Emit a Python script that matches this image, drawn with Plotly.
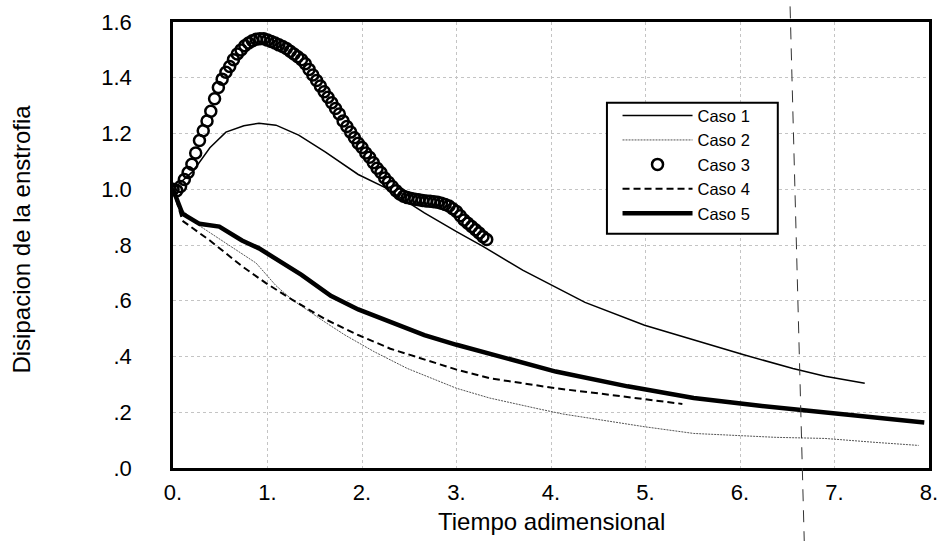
import plotly.graph_objects as go

# ---------------- data ----------------
caso1_x = [0.00, 0.10, 0.21, 0.39, 0.56, 0.75, 0.91, 1.09, 1.33, 1.61, 1.96, 2.24, 2.66, 3.00,
           3.28, 3.70, 4.05, 4.36, 4.99, 5.51, 6.04, 6.56, 6.90, 7.32]
caso1_y = [1.00, 1.03, 1.064, 1.149, 1.205, 1.228, 1.237, 1.230, 1.194, 1.134, 1.053, 1.007, 0.915, 0.848,
           0.795, 0.710, 0.647, 0.594, 0.512, 0.459, 0.406, 0.357, 0.329, 0.304]

caso2_x = [0.00, 0.10, 0.28, 0.56, 0.88, 1.09, 1.26, 1.61, 1.82, 2.13, 2.48, 3.00, 3.35, 3.87,
           4.12, 4.99, 5.51, 6.38, 6.90, 7.43, 7.89]
caso2_y = [1.00, 0.925, 0.869, 0.806, 0.735, 0.654, 0.604, 0.523, 0.477, 0.417, 0.357, 0.286, 0.251, 0.212,
           0.194, 0.148, 0.124, 0.110, 0.106, 0.092, 0.081]

caso3_x = [0.00, 0.04, 0.08, 0.12, 0.16, 0.20, 0.24, 0.28, 0.32, 0.36, 0.40, 0.44, 0.48, 0.52,
           0.56, 0.60, 0.64, 0.68, 0.72, 0.76, 0.80, 0.84, 0.88, 0.92, 0.96, 1.00, 1.04, 1.08,
           1.12, 1.16, 1.20, 1.24, 1.28, 1.32, 1.36, 1.40, 1.44, 1.48, 1.52, 1.56, 1.60, 1.64,
           1.68, 1.72, 1.76, 1.80, 1.84, 1.88, 1.92, 1.96, 2.00, 2.04, 2.08, 2.12, 2.16, 2.20,
           2.24, 2.28, 2.32, 2.36, 2.40, 2.44, 2.48, 2.52, 2.56, 2.60, 2.64, 2.68, 2.72, 2.76,
           2.80, 2.84, 2.88, 2.92, 2.96, 3.00, 3.04, 3.08, 3.12, 3.16, 3.20, 3.24, 3.28, 3.32]
caso3_y = [1.000, 0.995, 1.010, 1.035, 1.060, 1.090, 1.130, 1.175, 1.210, 1.245, 1.280, 1.325, 1.365, 1.395,
           1.420, 1.440, 1.465, 1.485, 1.500, 1.515, 1.525, 1.533, 1.538, 1.540, 1.540, 1.535, 1.530, 1.525,
           1.518, 1.512, 1.505, 1.495, 1.485, 1.475, 1.465, 1.450, 1.430, 1.410, 1.390, 1.370, 1.350, 1.330,
           1.310, 1.290, 1.270, 1.245, 1.225, 1.205, 1.185, 1.165, 1.150, 1.130, 1.115, 1.095, 1.075, 1.060,
           1.040, 1.025, 1.010, 0.995, 0.983, 0.975, 0.970, 0.967, 0.964, 0.962, 0.960, 0.958, 0.957, 0.955,
           0.953, 0.950, 0.945, 0.940, 0.930, 0.920, 0.905, 0.890, 0.878, 0.866, 0.855, 0.843, 0.830, 0.820]

caso4_x = [0.00, 0.10, 0.39, 0.73, 0.98, 1.26, 1.61, 1.96, 2.30, 2.66, 3.00, 3.35, 3.70, 4.05,
           4.47, 4.99, 5.39]
caso4_y = [1.00, 0.887, 0.816, 0.724, 0.664, 0.604, 0.534, 0.477, 0.428, 0.389, 0.353, 0.322, 0.304, 0.286,
           0.269, 0.247, 0.230]

caso5_x = [0.00, 0.10, 0.28, 0.49, 0.73, 0.91, 1.36, 1.67, 1.96, 2.30, 2.66, 3.00, 3.35, 3.70,
           4.05, 4.81, 5.51, 6.21, 6.90, 7.43, 7.95]
caso5_y = [1.00, 0.912, 0.876, 0.866, 0.816, 0.788, 0.693, 0.618, 0.569, 0.523, 0.477, 0.442, 0.410, 0.375,
           0.346, 0.293, 0.251, 0.223, 0.198, 0.180, 0.163]

x_tickvals = [0, 1, 2, 3, 4, 5, 6, 7, 8]
x_ticktext = ["0.", "1.", "2.", "3.", "4.", "5.", "6.", "7.", "8."]
y_tickvals = [0, 0.2, 0.4, 0.6, 0.8, 1.0, 1.2, 1.4, 1.6]
y_ticktext = [".0", ".2", ".4", ".6", ".8", "1.0", "1.2", "1.4", "1.6"]

x_title = "Tiempo adimensional"
y_title = "Disipacion de la enstrofia"

# scan fold line (vertical dashed line in the picture)
FOLD_TOP_X = 6.53
FOLD_BOTTOM_X = 6.68

# legend frame (paper fractions)
LEG_X0, LEG_X1, LEG_Y0, LEG_Y1 = 0.574, 0.800, 0.525, 0.819

FONT = "Liberation Sans, Arial, sans-serif"

fig = go.Figure()
fig.add_trace(go.Scatter(x=caso1_x, y=caso1_y, mode="lines", name="Caso 1", legendgroup="1",
                         line=dict(color="black", width=1.5)))
fig.add_trace(go.Scatter(x=caso2_x, y=caso2_y, mode="lines", name="Caso 2", legendgroup="2",
                         line=dict(color="#555555", width=1, dash="2px,1px")))
fig.add_trace(go.Scatter(x=caso3_x, y=caso3_y, mode="markers", name="Caso 3", legendgroup="3",
                         marker=dict(symbol="circle-open", size=11, color="black",
                                     line=dict(color="black", width=2.5))))
fig.add_trace(go.Scatter(x=caso4_x, y=caso4_y, mode="lines", name="Caso 4", legendgroup="4",
                         line=dict(color="black", width=2, dash="7px,4px")))
fig.add_trace(go.Scatter(x=caso5_x, y=caso5_y, mode="lines", name="Caso 5", legendgroup="5",
                         line=dict(color="black", width=4.5)))

axis_common = dict(showline=True, linecolor="black", linewidth=2.5, mirror=True,
                   showgrid=True, gridcolor="#c4c4c4", griddash="dot", gridwidth=1,
                   zeroline=False, ticks="", tickfont=dict(family=FONT, size=22, color="black"))

fig.update_xaxes(range=[0, 8], tickvals=x_tickvals, ticktext=x_ticktext,
                 ticklabelstandoff=3, **axis_common)
fig.update_yaxes(range=[0, 1.6], tickvals=y_tickvals, ticktext=y_ticktext,
                 ticklabelstandoff=34, **axis_common)

fig.add_shape(type="line", xref="x", yref="paper", x0=FOLD_TOP_X, x1=FOLD_BOTTOM_X,
              y0=1.035, y1=-0.165, line=dict(color="#333333", width=1, dash="12px,9px"), layer="above")

# legend frame
fig.add_shape(type="rect", xref="paper", yref="paper", x0=LEG_X0, x1=LEG_X1, y0=LEG_Y0, y1=LEG_Y1,
              fillcolor="white", line=dict(color="black", width=2), layer="above")

fig.add_annotation(text=x_title, xref="paper", yref="paper", x=0.5, y=-0.121,
                   xanchor="center", yanchor="middle", showarrow=False,
                   font=dict(family=FONT, size=24, color="black"))
fig.add_annotation(text=y_title, xref="paper", yref="paper", x=-0.2, y=0.514,
                   xanchor="center", yanchor="middle", showarrow=False, textangle=-90,
                   font=dict(family=FONT, size=24, color="black"))

fig.update_layout(
    width=948, height=541,
    margin=dict(l=173, r=10, t=15, b=73),
    paper_bgcolor="white", plot_bgcolor="white",
    font=dict(family=FONT, color="black"),
    legend=dict(x=0.588, y=0.829, xanchor="left", yanchor="top",
                bgcolor="rgba(0,0,0,0)", borderwidth=0,
                font=dict(family=FONT, size=16.5, color="black"),
                itemwidth=70, tracegroupgap=0, traceorder="grouped"),
)

fig.write_html("out.html")
